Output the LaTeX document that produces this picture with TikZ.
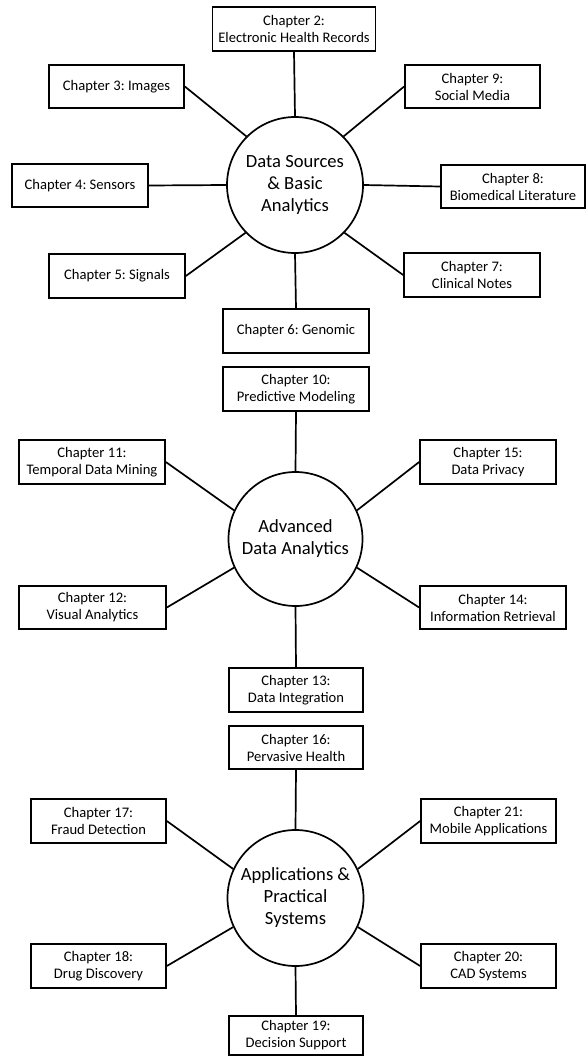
\documentclass[tikz,border=0pt]{standalone}
\usepackage{fontspec}
\setmainfont{Carlito}
\frenchspacing
\begin{document}
\begin{tikzpicture}[x=1pt,y=-1pt,
  box/.style={draw=black, line width=1.7pt, fill=white, inner sep=0pt, align=center,
    font=\fontsize{14.6}{17}\selectfont},
  hub/.style={draw=black, line width=1.7pt, fill=white, circle, inner sep=0pt, align=center,
    minimum size=136pt, font=\fontsize{18.6}{22}\selectfont},
  link/.style={line width=1.7pt, black}]
\useasboundingbox[fill=white] (0,0) rectangle (588,1057);

% ---------- Data Sources & Basic Analytics ----------
\node[hub] (d1) at (295,185) {Data Sources\\\& Basic\\Analytics};
\node[box, minimum width=163pt, minimum height=44pt] (c2) at (294,29) {Chapter 2:\\Electronic Health Records};
\node[box, minimum width=135pt, minimum height=43pt] (c3) at (116.5,86.5) {Chapter 3: Images};
\node[box, minimum width=135pt, minimum height=43pt] (c9) at (472.5,86.5) {Chapter 9:\\Social Media};
\node[box, minimum width=136pt, minimum height=43pt] (c4) at (80,185.5) {Chapter 4: Sensors};
\node[box, minimum width=144pt, minimum height=43pt] (c8) at (513,186.5) {Chapter 8:\\Biomedical Literature};
\node[box, minimum width=136pt, minimum height=44pt] (c5) at (117,276) {Chapter 5: Signals};
\node[box, minimum width=136pt, minimum height=44pt] (c7) at (472,275) {Chapter 7:\\Clinical Notes};
\node[box, minimum width=146pt, minimum height=44pt] (c6) at (296,331) {Chapter 6: Genomic};

\draw[link] (c2.south) -- (d1.north);
\draw[link] (c3.east) -- (d1.135);
\draw[link] (c9.west) -- (d1.45);
\draw[link] (c4.east) -- (d1.west);
\draw[link] (c8.west) -- (d1.east);
\draw[link] (c5.east) -- (d1.224);
\draw[link] (c7.west) -- (d1.316);
\draw[link] (c6.north) -- (d1.south);

% ---------- Advanced Data Analytics ----------
\node[hub, minimum size=134pt] (d2) at (295.5,539) {Advanced\\Data Analytics};
\node[box, minimum width=146pt, minimum height=44pt] (c10) at (296,389) {Chapter 10:\\Predictive Modeling};
\node[box, minimum width=146pt, minimum height=44pt] (c11) at (92,462) {Chapter 11:\\Temporal Data Mining};
\node[box, minimum width=136pt, minimum height=44pt] (c15) at (488,462) {Chapter 15:\\Data Privacy};
\node[box, minimum width=147pt, minimum height=43pt] (c12) at (92.5,607.5) {Chapter 12:\\Visual Analytics};
\node[box, minimum width=146pt, minimum height=43pt] (c14) at (493,607.5) {Chapter 14:\\Information Retrieval};
\node[box, minimum width=134pt, minimum height=44pt] (c13) at (296,690) {Chapter 13:\\Data Integration};

\draw[link] (c10.south) -- (d2.north);
\draw[link] (c11.east) -- (d2.155);
\draw[link] (c15.west) -- (d2.25);
\draw[link] (c12.east) -- (d2.205);
\draw[link] (c14.west) -- (d2.335);
\draw[link] (c13.north) -- (d2.south);

% ---------- Applications & Practical Systems ----------
\node[hub] (d3) at (295.5,898) {Applications \&\\Practical\\Systems};
\node[box, minimum width=134pt, minimum height=43pt] (c16) at (296,747.5) {Chapter 16:\\Pervasive Health};
\node[box, minimum width=135pt, minimum height=44pt] (c17) at (98.5,821) {Chapter 17:\\Fraud Detection};
\node[box, minimum width=135pt, minimum height=44pt] (c21) at (488.5,821) {Chapter 21:\\Mobile Applications};
\node[box, minimum width=135pt, minimum height=44pt] (c18) at (98.5,966) {Chapter 18:\\Drug Discovery};
\node[box, minimum width=135pt, minimum height=44pt] (c20) at (488.5,966) {Chapter 20:\\CAD Systems};
\node[box, minimum width=134pt, minimum height=39pt] (c19) at (296,1035.5) {Chapter 19:\\Decision Support};

\draw[link] (c16.south) -- (d3.north);
\draw[link] (c17.east) -- (d3.155);
\draw[link] (c21.west) -- (d3.25);
\draw[link] (c18.east) -- (d3.205);
\draw[link] (c20.west) -- (d3.335);
\draw[link] (c19.north) -- (d3.south);
\end{tikzpicture}
\end{document}
